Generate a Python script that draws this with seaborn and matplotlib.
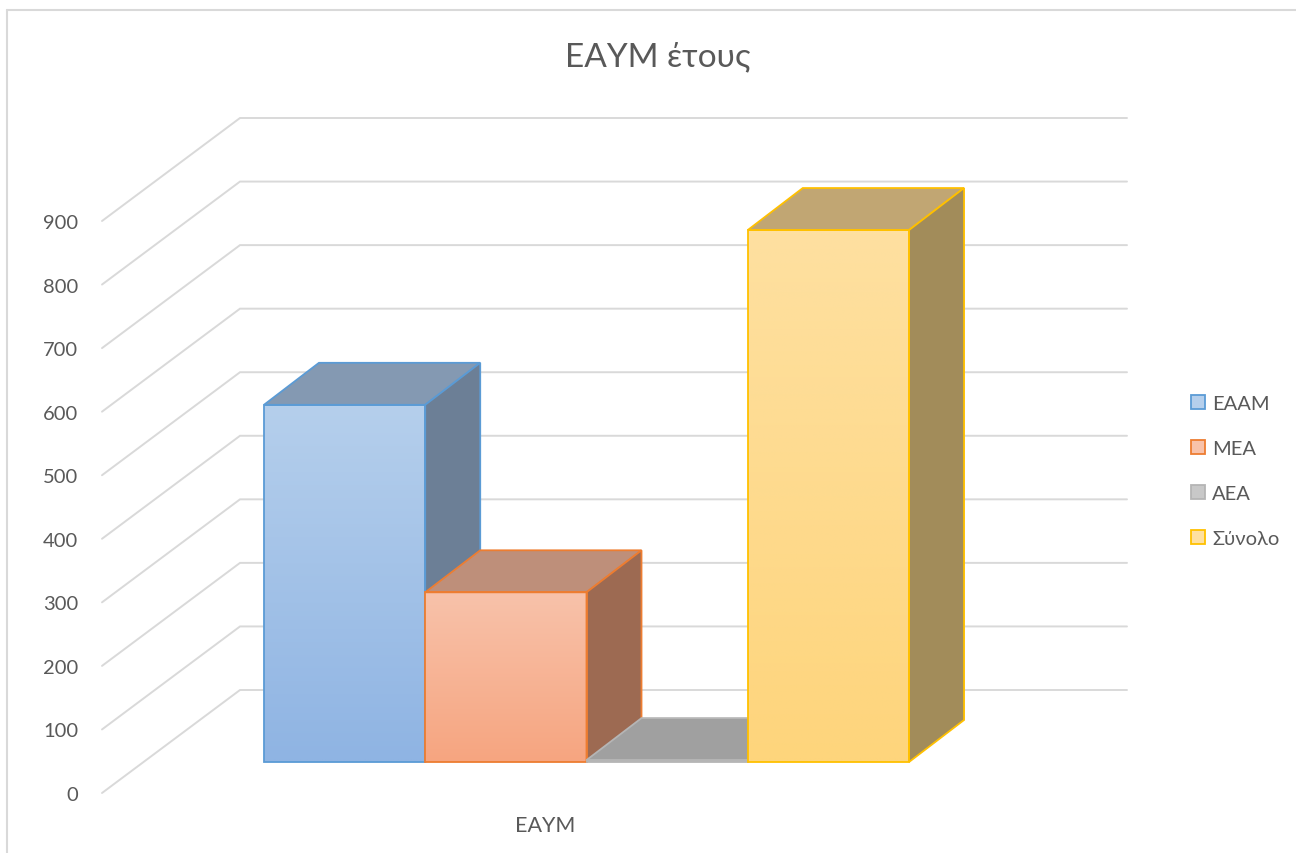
import numpy as np
import pandas as pd
import matplotlib
matplotlib.use("Agg")
import matplotlib.pyplot as plt
import matplotlib.transforms as mtrans
from matplotlib.patches import Polygon, Patch
from matplotlib.lines import Line2D
import seaborn as sns

# ---------------- data ----------------
category = ["ΕΑΥΜ"]
series = ["ΕΑΑΜ", "ΜΕΑ", "ΑΕΑ", "Σύνολο"]
values = [562, 267, 3, 837]
yticks = [0, 100, 200, 300, 400, 500, 600, 700, 800, 900]
title = "ΕΑΥΜ έτους"

front_top = ["#b5cfec", "#f8c2aa", "#c8c8c8", "#fee0a0"]
front_bot = ["#8fb4e3", "#f6a580", "#b0b0b0", "#fed57c"]
top_col = ["#8499b2", "#be8f7a", "#a0a0a0", "#c1a673"]
side_col = ["#6c7f96", "#9d6a52", "#8a8a8a", "#a28c5a"]
edge_col = ["#5b9bd5", "#ed7d31", "#b5b5b5", "#ffc000"]

df = pd.DataFrame({"cat": category * len(series), "series": series, "value": values})

sns.set_theme(style="white")
plt.rcParams["font.family"] = ["Lato", "DejaVu Sans"]
TXT = "#595959"
GRID = "#d9d9d9"

W, H = 1296, 854
fig = plt.figure(figsize=(W / 100, H / 100), dpi=100)
fig.patch.set_facecolor("white")

# front plane of the plot box (pixels)
x_left, x_right, y0_px, y900_px = 102, 989, 794, 222
ax = fig.add_axes([x_left / W, (H - y0_px) / H, (x_right - x_left) / W, (y0_px - y900_px) / H])
ax.set_facecolor("none")

sns.barplot(data=df, x="cat", y="value", hue="series", hue_order=series,
            palette=front_bot, width=0.8, ax=ax, legend=False, saturation=1)
ax.set_xlim(-0.55, 0.55)
ax.set_ylim(0, 900)
for s in ax.spines.values():
    s.set_visible(False)
ax.set_xlabel("")
ax.set_ylabel("")
ax.set_yticks(yticks)
ax.set_yticklabels([str(t) for t in yticks])
ax.tick_params(axis="y", length=0, pad=17, labelsize=14.5, labelcolor=TXT)
ax.tick_params(axis="x", length=0, pad=16, labelsize=15.5, labelcolor=TXT)
ax.grid(False)

# depth offsets (pixels, display coords y-up)
bar_front = np.array([41.0, 31.0])
bar_back = np.array([96.0, 73.0])
wall_back = np.array([138.0, 103.0])

def to_data(x, y, off):
    d = ax.transData.transform((x, y)) + off
    return ax.transData.inverted().transform(d)

# ---- walls gridlines ----
xl, xr = ax.get_xlim()
for t in yticks:
    p0 = to_data(xl, t, np.array([0.0, 0.0]))
    p1 = to_data(xl, t, wall_back)
    p2 = to_data(xr, t, wall_back)
    ax.add_line(Line2D([p0[0], p1[0], p2[0]], [p0[1], p1[1], p2[1]],
                       color=GRID, lw=1.4, zorder=0.5, clip_on=False,
                       solid_joinstyle="miter"))

# ---- bars ----
bars = list(ax.patches)
shift = ax.transData + mtrans.ScaledTranslation(bar_front[0] / 100, bar_front[1] / 100, fig.dpi_scale_trans)
for i, b in enumerate(bars):
    x0, w, h = b.get_x(), b.get_width(), b.get_height()
    z = 2 + i
    b.set_transform(shift)
    b.set_facecolor("none")
    b.set_edgecolor(edge_col[i])
    b.set_linewidth(1.3)
    b.set_zorder(z + 0.3)
    b.set_clip_on(False)
    # gradient front face
    c1 = np.array(matplotlib.colors.to_rgba(front_top[i]))
    c2 = np.array(matplotlib.colors.to_rgba(front_bot[i]))
    tt = np.linspace(0, 1, 64)[:, None]
    grad = (c1 * (1 - tt) + c2 * tt)[:, None, :]
    im = ax.imshow(grad, extent=[x0, x0 + w, 0, max(h, 0.01)], aspect="auto",
                   origin="upper", transform=shift, zorder=z, interpolation="bilinear")
    im.set_clip_path(b)
    # top face
    ftl = to_data(x0, h, bar_front)
    ftr = to_data(x0 + w, h, bar_front)
    btl = to_data(x0, h, bar_back)
    btr = to_data(x0 + w, h, bar_back)
    fbr = to_data(x0 + w, 0, bar_front)
    bbr = to_data(x0 + w, 0, bar_back)
    ax.add_patch(Polygon([ftl, ftr, btr, btl], closed=True, facecolor=top_col[i],
                         edgecolor=edge_col[i], lw=1.3, zorder=z + 0.1, clip_on=False,
                         joinstyle="miter"))
    ax.add_patch(Polygon([ftr, btr, bbr, fbr], closed=True, facecolor=side_col[i],
                         edgecolor=edge_col[i], lw=1.3, zorder=z + 0.2, clip_on=False,
                         joinstyle="miter"))

ax.set_xlim(xl, xr)
ax.set_ylim(0, 900)

# ---- title ----
fig.text(658 / W, 1 - 66 / H, title, ha="center", va="baseline",
         fontsize=24, color=TXT)

# ---- legend ----
handles = [Patch(facecolor=front_top[i], edgecolor=edge_col[i], lw=1.3, label=series[i])
           for i in range(len(series))]
leg = fig.legend(handles=handles, loc="center left",
                 bbox_to_anchor=(1191 / W, 1 - 472 / H), frameon=False,
                 fontsize=14.5, labelcolor=TXT, labelspacing=1.4,
                 handlelength=0.7, handleheight=0.7, handletextpad=0.35,
                 borderpad=0, borderaxespad=0)

# ---- chart border ----
fig.add_artist(Line2D([7 / W, 1], [1 - 11 / H, 1 - 11 / H], color=GRID, lw=1.5,
                      transform=fig.transFigure))
fig.add_artist(Line2D([7 / W, 7 / W], [0, 1 - 11 / H], color=GRID, lw=1.5,
                      transform=fig.transFigure))

fig.savefig("out.png", dpi=100, facecolor="white")
